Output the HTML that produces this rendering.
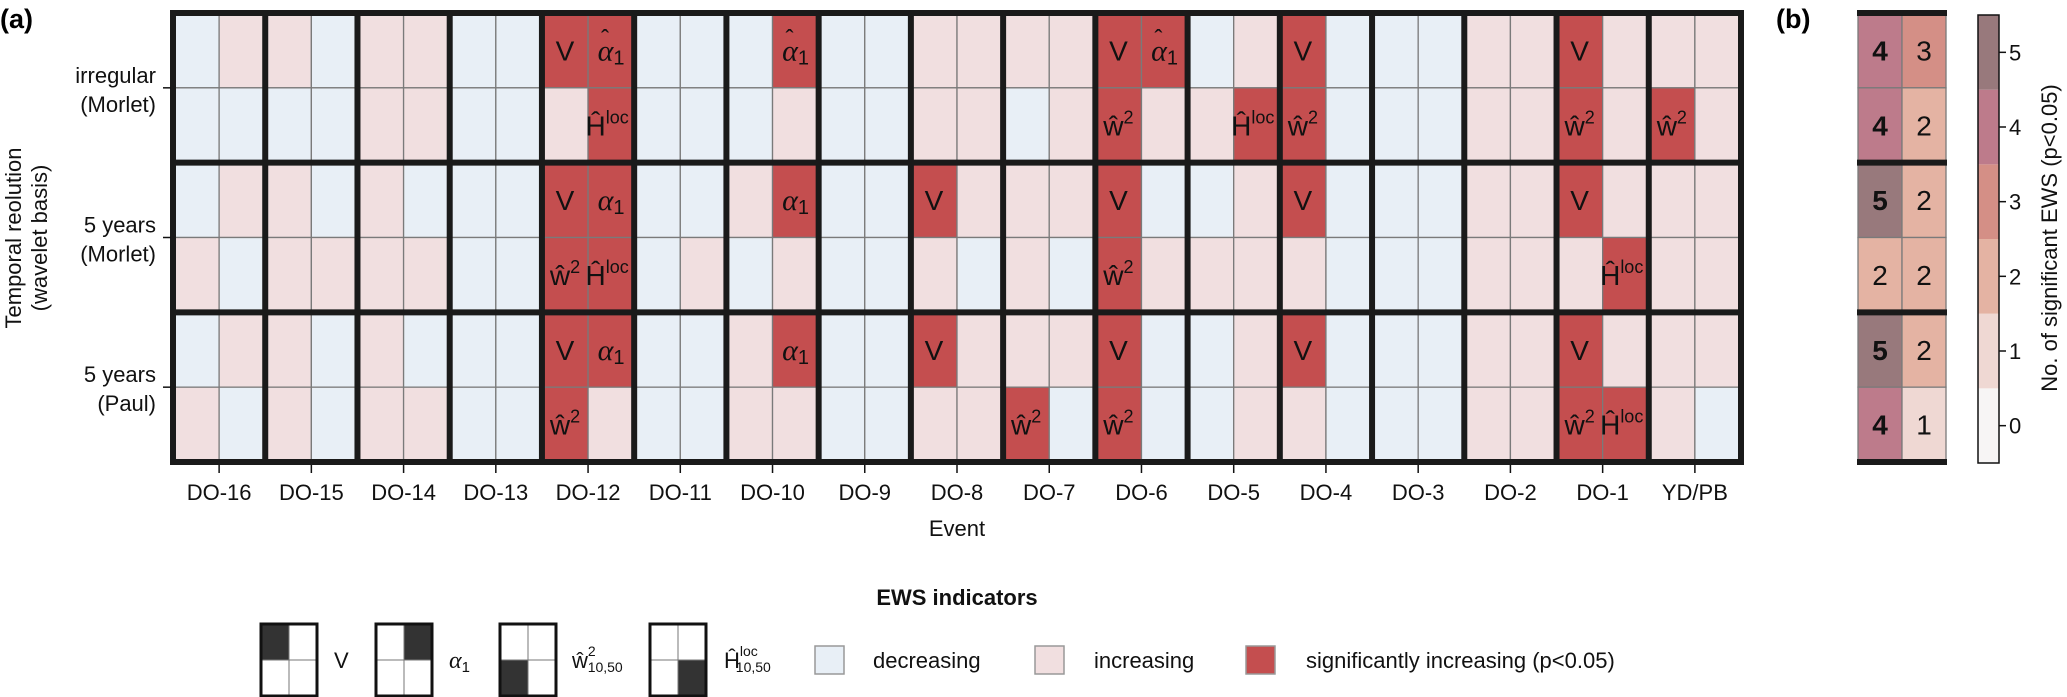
<!DOCTYPE html>
<html><head><meta charset="utf-8">
<style>
html,body{margin:0;padding:0;background:#fff;}
svg{display:block;font-family:"Liberation Sans",sans-serif;}
</style></head>
<body>
<svg id="chart" width="2067" height="697" viewBox="0 0 2067 697" xmlns="http://www.w3.org/2000/svg">
<text x="0" y="28" font-size="27" font-weight="bold">(a)</text>
<text x="1776" y="28" font-size="27" font-weight="bold">(b)</text>
<g id="main"></g>
<g id="panelb"></g>
<g id="cbar"></g>
<g id="legend"></g>
</svg>
<script>
// ---- data ----
const events = ["DO-16","DO-15","DO-14","DO-13","DO-12","DO-11","DO-10","DO-9","DO-8","DO-7","DO-6","DO-5","DO-4","DO-3","DO-2","DO-1","YD/PB"];
const rowGroups = [["irregular","(Morlet)"],["5 years","(Morlet)"],["5 years","(Paul)"]];
// per event: 6 rows x 2 cols; d=decreasing, i=increasing, s=significant
const states = {
 "DO-16":["di","dd","di","id","di","id"],
 "DO-15":["id","dd","id","ii","id","id"],
 "DO-14":["ii","ii","id","ii","id","ii"],
 "DO-13":["dd","dd","dd","dd","dd","dd"],
 "DO-12":["ss","is","ss","ss","ss","si"],
 "DO-11":["dd","dd","dd","di","dd","dd"],
 "DO-10":["ds","di","is","di","is","ii"],
 "DO-9":["dd","dd","dd","dd","dd","dd"],
 "DO-8":["ii","ii","si","id","si","ii"],
 "DO-7":["ii","di","ii","id","ii","sd"],
 "DO-6":["ss","si","sd","si","sd","sd"],
 "DO-5":["di","is","di","ii","di","di"],
 "DO-4":["sd","sd","sd","id","sd","id"],
 "DO-3":["dd","dd","dd","dd","dd","dd"],
 "DO-2":["ii","ii","ii","ii","ii","ii"],
 "DO-1":["si","si","si","is","si","ss"],
 "YD/PB":["ii","si","ii","ii","ii","id"]
};
const countsLeft = [4,4,5,2,5,4];
const countsRight = [3,2,2,2,2,1];
const cbarTicks = [0,1,2,3,4,5];
const stateColors = {d:"#e8eff6", i:"#f1dfe0", s:"#c44e4f"};
const countColors = ["#f7f5f5","#efd8d3","#e4b3a3","#d48f86","#bd7b8b","#98797c"];

const NS="http://www.w3.org/2000/svg";
function mk(tag, attrs, parent){const e=document.createElementNS(NS,tag);for(const k in attrs)e.setAttribute(k,attrs[k]);parent.appendChild(e);return e;}

// ---- axes ----
const X0=173, X1=1741, Y0=13, Y1=462;
const cw=(X1-X0)/(events.length*2), rh=(Y1-Y0)/6;
const xc=c=>X0+c*cw;
const yr=r=>Y0+r*rh;

const main=document.getElementById('main');
events.forEach((ev,ei)=>{
  states[ev].forEach((row,r)=>{
    for(let k=0;k<2;k++){
      const st=row[k];
      const rect=mk('rect',{x:xc(ei*2+k),y:yr(r),width:cw,height:rh,fill:stateColors[st],stroke:"#7a7a7a","stroke-width":1.3},main);
      
      
      if(st==='s'){
        const cx=xc(ei*2+k)+cw/2, cy=yr(r)+rh/2;
        const top=(r%2===0);
        const t=mk('text',{x:cx,y:cy+10,"text-anchor":"middle","font-size":28,fill:"#111"},main);
        
        
        if(top&&k===0){t.textContent="V";}
        else if(top&&k===1){
          const a=mk('tspan',{"font-family":"Liberation Serif,serif","font-style":"italic","font-size":30},t);
          a.textContent="α";
          const s=mk('tspan',{"font-size":20,dy:4},t);s.textContent="1";
          if(r===0){
            const h=mk('text',{x:cx-6,y:cy-4,"text-anchor":"middle","font-size":24,fill:"#111"},main);
            
            
            h.textContent="ˆ";
          }
        } else if(k===0){
          t.textContent="ŵ";
          const s=mk('tspan',{"font-size":18,dy:-12},t);s.textContent="2";
        } else {
          t.setAttribute('x',cx-4);
          t.textContent="Ĥ";
          const s=mk('tspan',{"font-size":18,dy:-12},t);s.textContent="loc";
        }
      }
    }
  });
});
// thick lines
for(let e=0;e<=events.length;e++){
  const l=mk('line',{x1:xc(e*2),x2:xc(e*2),y1:Y0-3,y2:Y1+3,stroke:"#1a1a1a","stroke-width":6},main);
  
  
}
for(let g=0;g<=3;g++){
  const l=mk('line',{x1:X0-3,x2:X1+3,y1:yr(g*2),y2:yr(g*2),stroke:"#1a1a1a","stroke-width":6},main);
  
  
}
// x ticks and labels
events.forEach((ev,ei)=>{
  const cx=xc(ei*2+1);
  const tk=mk('line',{x1:cx,x2:cx,y1:Y1+3,y2:Y1+11,stroke:"#111","stroke-width":1.5},main);
  
  
  const t=mk('text',{x:cx,y:500,"text-anchor":"middle","font-size":22,fill:"#111"},main);
  
  
  t.textContent=ev;
});
const xt=mk('text',{x:957,y:536,"text-anchor":"middle","font-size":22,fill:"#111"},main);


xt.textContent="Event";
// y ticks and labels
rowGroups.forEach((lab,g)=>{
  const y=yr(g*2+1);
  const tk=mk('line',{x1:163,x2:171,y1:y,y2:y,stroke:"#111","stroke-width":1.5},main);
  
  
  const t=mk('text',{x:156,y:y-5,"text-anchor":"end","font-size":22,fill:"#111"},main);
  
  
  t.textContent=lab[0];
  const t2=mk('text',{x:156,y:y+24,"text-anchor":"end","font-size":22,fill:"#111"},main);
  
  
  t2.textContent=lab[1];
});
const yt=mk('text',{transform:"translate(21,238) rotate(-90)","text-anchor":"middle","font-size":22,fill:"#111"},main);


yt.textContent="Temporal reolution";
const yt2=mk('text',{transform:"translate(47,238) rotate(-90)","text-anchor":"middle","font-size":22,fill:"#111"},main);


yt2.textContent="(wavelet basis)";

// ---- panel b ----
const pb=document.getElementById('panelb');
const BX0=1858, BW=44;
[countsLeft,countsRight].forEach((arr,k)=>{
  arr.forEach((v,r)=>{
    const rc=mk('rect',{x:BX0+k*BW,y:yr(r),width:BW,height:rh,fill:countColors[v],stroke:"#7a7a7a","stroke-width":1.3},pb);
    
    
    const t=mk('text',{x:BX0+k*BW+BW/2,y:yr(r)+rh/2+10,"text-anchor":"middle","font-size":28,fill:"#111","font-weight":(k===0&&v>=4)?"bold":"normal"},pb);
    
    
    t.textContent=v;
  });
});
for(let g=0;g<=3;g++){
  const l=mk('line',{x1:BX0-1,x2:BX0+2*BW+1,y1:yr(g*2),y2:yr(g*2),stroke:"#1a1a1a","stroke-width":6},pb);
  
  
}

// ---- colorbar ----
const cb=document.getElementById('cbar');
const CX=1978, CWd=21, CY0=15, CY1=463;
const cy=v=>CY1-(v+0.5)*(CY1-CY0)/6;
cbarTicks.forEach(v=>{
  const rc=mk('rect',{x:CX,y:cy(v+0.5),width:CWd,height:(CY1-CY0)/6,fill:countColors[v]},cb);
  
  
  const tk=mk('line',{x1:CX+CWd,x2:CX+CWd+7,y1:cy(v),y2:cy(v),stroke:"#111","stroke-width":1.5},cb);
  
  
  const t=mk('text',{x:CX+CWd+10,y:cy(v)+8,"font-size":22,fill:"#111"},cb);
  
  
  t.textContent=v;
});
const cbo=mk('rect',{x:CX,y:CY0,width:CWd,height:CY1-CY0,fill:"none",stroke:"#111","stroke-width":1.5},cb);


const cbt=mk('text',{transform:"translate(2057,238) rotate(-90)","text-anchor":"middle","font-size":22,fill:"#111"},cb);


cbt.textContent="No. of significant EWS (p<0.05)";

// ---- legend ----
const lg=document.getElementById('legend');
const lt=mk('text',{x:957,y:605,"text-anchor":"middle","font-size":22,"font-weight":"bold",fill:"#111"},lg);


lt.textContent="EWS indicators";
const iconX=[261,376,500,650];
const quads=[[0,0],[1,0],[0,1],[1,1]];
iconX.forEach((x,i)=>{
  const g=mk('g',{},lg);
  
  
  for(let q=0;q<4;q++){
    const [qx,qy]=quads[q];
    mk('rect',{x:x+qx*28,y:624+qy*36,width:28,height:36,fill:q===i?"#333":"#fff",stroke:"#777","stroke-width":1},g);
  }
  mk('rect',{x:x,y:624,width:56,height:72,fill:"none",stroke:"#111","stroke-width":3},g);
});
function lText(x,name){const t=mk('text',{x:x,y:668,"font-size":22,fill:"#111"},lg);return t;}
lText(334,'legend-v').textContent="V";
const la=lText(449,'legend-alpha');
const la1=mk('tspan',{"font-family":"Liberation Serif,serif","font-style":"italic","font-size":24},la);la1.textContent="α";
const la2=mk('tspan',{"font-size":15,dy:4},la);la2.textContent="1";
const lw=lText(572,'legend-w2');
lw.textContent="ŵ";
const lw1=mk('tspan',{"font-size":14,dy:-12},lw);lw1.textContent="2";
const lw2=mk('tspan',{"font-size":14,dx:-8,dy:16},lw);lw2.textContent="10,50";
const lh=lText(724,'legend-hloc');
lh.textContent="Ĥ";
const lh1=mk('tspan',{"font-size":14,dy:-12},lh);lh1.textContent="loc";
const lh2=mk('tspan',{"font-size":14,dx:-22,dy:16},lh);lh2.textContent="10,50";
const sw=[[815,"#e8eff6","decreasing",873,'legend-decreasing'],[1035,"#f1dfe0","increasing",1094,'legend-increasing'],[1246,"#c44e4f","significantly increasing (p<0.05)",1306,'legend-significant']];
sw.forEach(s=>{
  const r=mk('rect',{x:s[0],y:646,width:29,height:28,fill:s[1],stroke:"#999","stroke-width":1.5},lg);
  
  
  lText(s[3],s[4]).textContent=s[2];
});
</script>
</body></html>
